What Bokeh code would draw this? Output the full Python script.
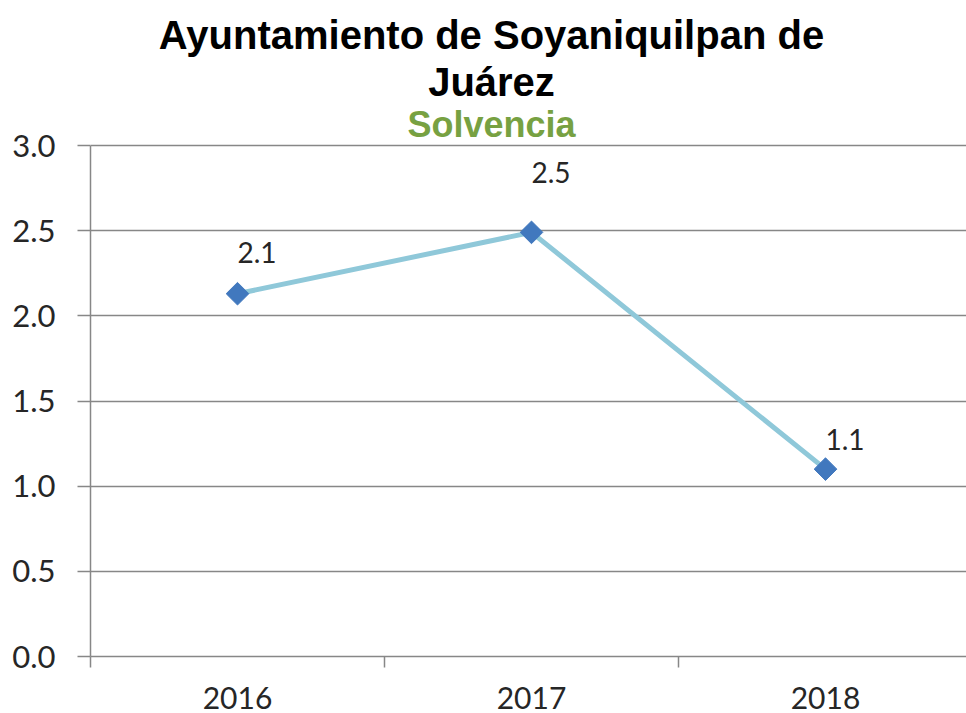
import math
from bokeh.plotting import figure
from bokeh.models import (ColumnDataSource, Range1d, FixedTicker, NumeralTickFormatter,
                          Label)
from bokeh.core.properties import value
from bokeh.embed import file_html
from bokeh.resources import INLINE

# ---- data ----
years = [2016, 2017, 2018]
solvencia = [2.13, 2.49, 1.10]
value_labels = ["2.1", "2.5", "1.1"]
y_ticks = [0.0, 0.5, 1.0, 1.5, 2.0, 2.5, 3.0]
title_lines = ["Ayuntamiento de Soyaniquilpan de", "Juárez"]
subtitle = "Solvencia"

# ---- style / layout ----
label_dy = [-41, -60, -30]   # per-label vertical offsets (px)
GRID = "#878787"
TXT = "#262626"
LINE_C = "#8FC8D9"
MARK_C = "#4178BE"

W, H = 966, 713
FRAME_LEFT, FRAME_BOTTOM = 90, 656
TOP_PX = 145                       # pixel row of the top tick (3.0)
px_per_unit = (FRAME_BOTTOM - TOP_PX) / (y_ticks[-1] - y_ticks[0])
y_end = y_ticks[0] + FRAME_BOTTOM / px_per_unit   # frame reaches canvas top (room for titles)
cat_px = 294
x_start = years[0] - 0.5
x_end = x_start + (W - FRAME_LEFT) / cat_px

p = figure(width=W, height=H, output_backend="svg", toolbar_location=None,
           x_range=Range1d(x_start, x_end),
           y_range=Range1d(y_ticks[0], y_end),
           min_border_left=FRAME_LEFT, min_border_right=0, min_border_top=0,
           min_border_bottom=H - FRAME_BOTTOM)
p.outline_line_color = None
p.background_fill_color = "white"
p.border_fill_color = "white"

src = ColumnDataSource(dict(x=years, y=solvencia, lab=value_labels, dy=label_dy))

p.line("x", "y", source=src, line_color=LINE_C, line_width=5)
p.scatter("x", "y", source=src, marker="square", size=16, angle=math.pi / 4,
          fill_color=MARK_C, line_color=MARK_C)
p.text("x", "y", text="lab", source=src, x_offset=0, y_offset="dy",
       text_align="left", text_baseline="alphabetic",
       text_font=value("Lato"), text_font_size="28px", text_color=TXT)

# y axis
p.yaxis.ticker = FixedTicker(ticks=y_ticks)
p.yaxis.bounds = (y_ticks[0], y_ticks[-1])
p.yaxis.formatter = NumeralTickFormatter(format="0.0")
p.yaxis.axis_line_color = GRID
p.yaxis.axis_line_width = 1.5
p.yaxis.major_tick_line_color = GRID
p.yaxis.major_tick_line_width = 1.5
p.yaxis.major_tick_out = 13
p.yaxis.major_tick_in = 0
p.yaxis.minor_tick_line_color = None
p.yaxis.major_label_standoff = 22
p.yaxis.major_label_text_font = "Lato"
p.yaxis.major_label_text_font_size = "31px"
p.yaxis.major_label_text_color = TXT

# x axis
minor = [y - 0.5 for y in years] + [years[-1] + 0.5]
p.xaxis.ticker = FixedTicker(ticks=years, minor_ticks=minor)
p.xaxis.formatter = NumeralTickFormatter(format="0")
p.xaxis.axis_line_color = GRID
p.xaxis.axis_line_width = 1.5
p.xaxis.major_tick_out = 0
p.xaxis.major_tick_in = 0
p.xaxis.major_tick_line_color = None
p.xaxis.minor_tick_out = 11
p.xaxis.minor_tick_in = 0
p.xaxis.minor_tick_line_color = GRID
p.xaxis.minor_tick_line_width = 1.5
p.xaxis.major_label_standoff = 19
p.xaxis.major_label_text_font = "Lato"
p.xaxis.major_label_text_font_size = "30px"
p.xaxis.major_label_text_color = TXT

p.xgrid.grid_line_color = None
p.ygrid.ticker = FixedTicker(ticks=y_ticks)
p.ygrid.grid_line_color = GRID
p.ygrid.grid_line_width = 1.5

# titles
TITLE_X = 491
for txt, yy in zip(title_lines, [34, 81]):
    p.add_layout(Label(x=TITLE_X, y=yy, x_units="canvas", y_units="canvas", text=txt,
                       text_align="center", text_baseline="alphabetic",
                       text_font="Liberation Sans", text_font_style="bold",
                       text_font_size="40px", text_color="#000000"))
p.add_layout(Label(x=TITLE_X, y=124, x_units="canvas", y_units="canvas", text=subtitle,
                   text_align="center", text_baseline="alphabetic",
                   text_font="Liberation Sans", text_font_style="bold",
                   text_font_size="36px", text_color="#77A142"))

open("out.html", "w").write(file_html(p, INLINE))
